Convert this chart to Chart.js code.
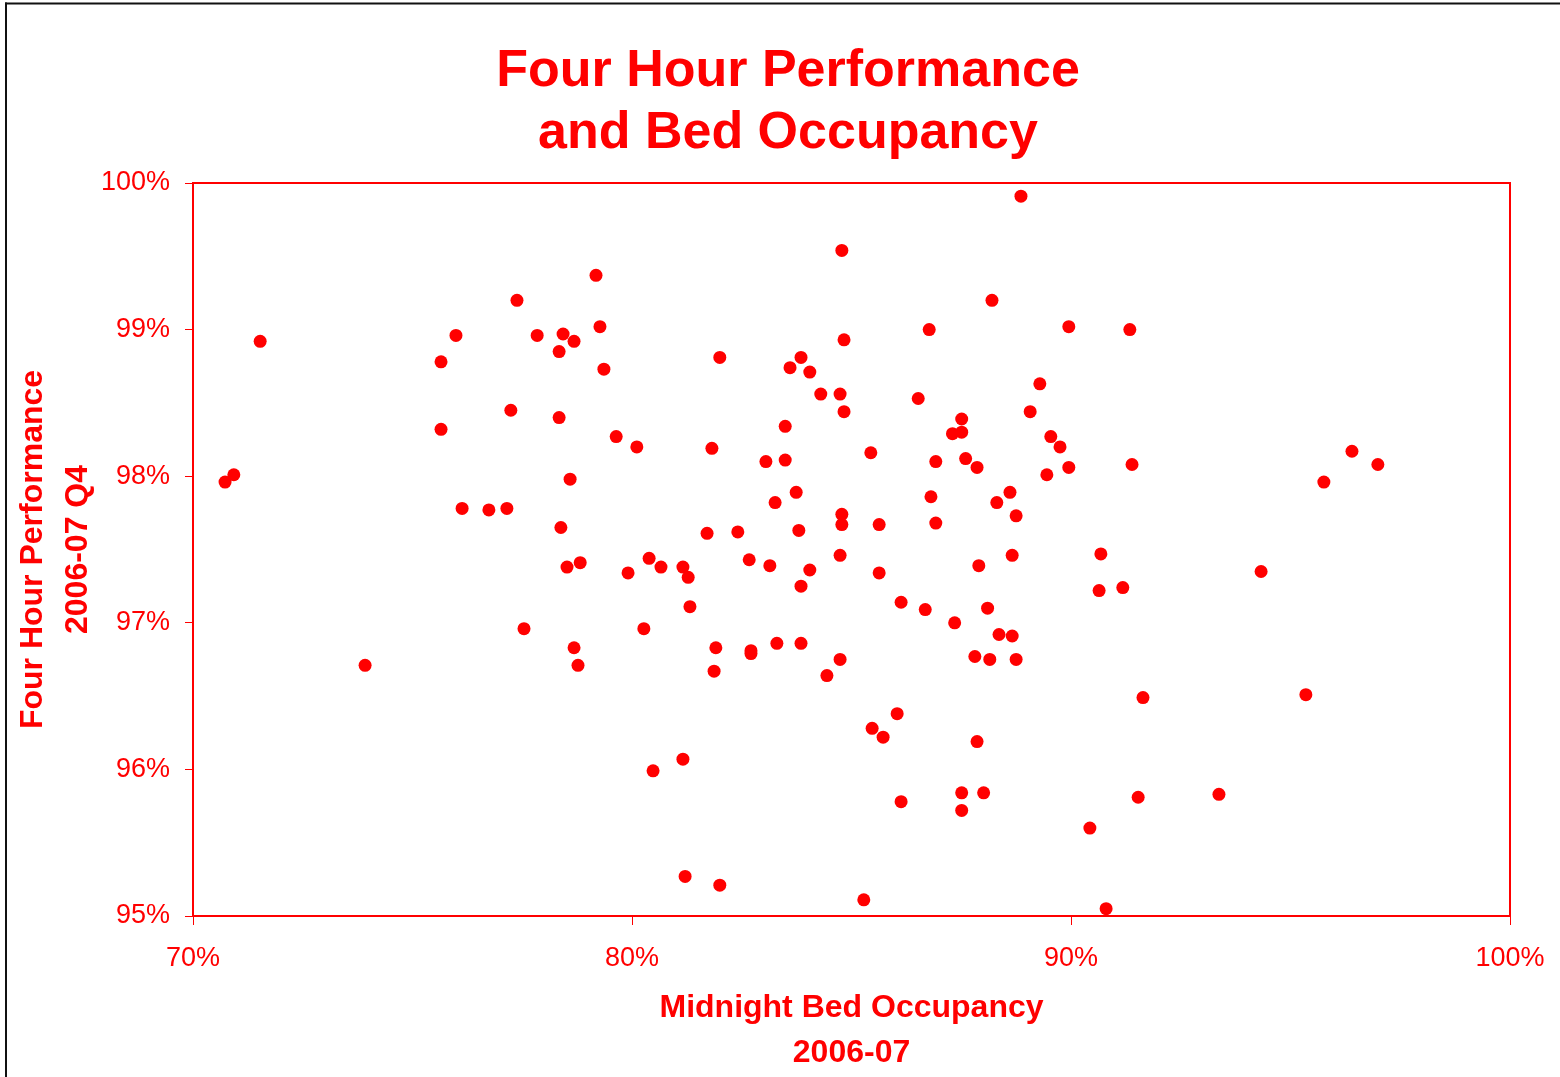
<!DOCTYPE html>
<html>
<head>
<meta charset="utf-8">
<script src="https://cdn.jsdelivr.net/npm/chart.js@4/dist/chart.umd.min.js"></script>
<style>
  html, body { margin: 0; padding: 0; background: #fff; overflow: hidden; }
  #wrap { position: absolute; left: 0; top: 0; width: 1576px; height: 1077px; }
</style>
</head>
<body>
<div id="wrap"><canvas id="c" width="1576" height="1077"></canvas></div>
<script>
// Midnight bed occupancy 2006-07 (%)
const occupancy = [
  70.73, 70.93, 71.53, 73.92, 75.65, 75.99, 75.65, 76.13, 76.74, 77.15,
  77.24, 77.38, 77.54, 77.84, 78.34, 78.34, 78.43, 78.38, 78.52, 78.59,
  78.68, 78.68, 78.77, 78.82, 79.18, 79.27, 79.36, 79.64, 79.91, 80.11,
  80.27, 80.39, 80.48, 80.66, 81.16, 81.16, 81.21, 81.28, 81.32, 81.71,
  81.82, 81.87, 81.91, 82.00, 82.00, 82.41, 82.67, 82.71, 82.71, 83.05,
  83.14, 83.26, 83.30, 83.49, 83.49, 83.60, 83.74, 83.80, 83.85, 83.85,
  83.85, 84.05, 84.05, 84.30, 84.44, 84.74, 84.74, 84.74, 84.78, 84.78,
  84.78, 84.83, 84.83, 85.28, 85.44, 85.47, 85.63, 85.63, 85.72, 86.04,
  86.13, 86.13, 86.52, 86.68, 86.77, 86.81, 86.92, 86.92, 87.30, 87.35,
  87.51, 87.51, 87.51, 87.51, 87.60, 87.81, 87.86, 87.86, 87.90, 88.01,
  88.10, 88.15, 88.20, 88.31, 88.36, 88.61, 88.66, 88.66, 88.75, 88.75,
  88.86, 89.07, 89.29, 89.45, 89.54, 89.75, 89.95, 89.95, 90.43, 90.64,
  90.68, 90.80, 91.18, 91.34, 91.39, 91.53, 91.64, 93.37, 94.33, 95.35,
  95.76, 96.40, 96.99
];
// Four hour performance 2006-07 Q4 (%)
const performance = [
  97.96, 98.01, 98.92, 96.71, 98.78, 98.96, 98.32, 97.78, 97.77, 97.78,
  98.45, 99.20, 96.96, 98.96, 98.85, 98.40, 98.97, 97.65, 97.38, 97.98,
  98.92, 96.83, 96.71, 97.41, 99.37, 99.02, 98.73, 98.27, 97.34, 98.20,
  96.96, 97.44, 95.99, 97.38, 97.38, 96.07, 95.27, 97.31, 97.11, 97.61,
  98.19, 96.67, 96.83, 98.81, 95.21, 97.62, 97.43, 96.81, 96.79, 98.10,
  97.39, 97.82, 96.86, 98.34, 98.11, 98.74, 97.89, 97.63, 98.81, 97.25,
  96.86, 98.71, 97.36, 98.56, 96.64, 98.56, 97.46, 96.75, 99.54, 97.74,
  97.67, 98.93, 98.44, 95.11, 98.16, 96.28, 97.67, 97.34, 96.22, 96.38,
  97.14, 95.78, 98.53, 97.09, 99.00, 97.86, 98.10, 97.68, 98.29, 97.00,
  98.39, 98.30, 95.84, 95.72, 98.12, 96.77, 98.06, 96.19, 97.39, 95.84,
  97.10, 96.75, 99.20, 97.82, 96.92, 97.89, 97.46, 96.91, 97.73, 96.75,
  99.91, 98.44, 98.63, 98.01, 98.27, 98.20, 99.02, 98.06, 95.60, 97.22,
  97.47, 95.05, 97.24, 99.00, 98.08, 95.81, 96.49, 95.83, 97.35, 96.51,
  97.96, 98.17, 98.08
];
const titleLines = ['Four Hour Performance', 'and Bed Occupancy'];
const xTitleLines = ['Midnight Bed Occupancy', '2006-07'];
const yTitleLines = ['Four Hour Performance', '2006-07 Q4'];
const xTicks = [70, 80, 90, 100];
const yTicks = [95, 96, 97, 98, 99, 100];

const RED = '#FF0000';
const FONT = "'Liberation Sans', Arial, Helvetica, sans-serif";

const points = occupancy.map((x, i) => ({ x: x, y: performance[i] }));

const framePlugin = {
  id: 'frame',
  beforeDraw(chart) {
    const ctx = chart.ctx;
    ctx.save();
    ctx.fillStyle = '#fff';
    ctx.fillRect(0, 0, chart.width, chart.height);
    ctx.fillStyle = '#111';
    ctx.fillRect(5, 2.5, chart.width, 2);
    ctx.fillRect(5, 2.5, 2, chart.height);
    ctx.restore();
  },
  afterDatasetsDraw(chart) {
    const a = chart.chartArea;
    const ctx = chart.ctx;
    ctx.save();
    ctx.strokeStyle = RED;
    ctx.lineWidth = 2;
    ctx.strokeRect(a.left, a.top, a.right - a.left, a.bottom - a.top);
    ctx.restore();
  }
};

new Chart(document.getElementById('c'), {
  type: 'scatter',
  data: {
    datasets: [{
      data: points,
      pointRadius: 6.5,
      pointBackgroundColor: RED,
      pointBorderColor: RED,
      pointBorderWidth: 0,
      showLine: false
    }]
  },
  options: {
    responsive: false,
    animation: false,
    events: [],
    layout: { padding: { left: 0, right: 0, top: 0, bottom: 0 } },
    plugins: {
      legend: { display: false },
      tooltip: { enabled: false },
      title: {
        display: true,
        text: titleLines,
        color: RED,
        font: { family: FONT, size: 52, weight: 'bold', lineHeight: '62px' },
        padding: { top: 41, bottom: 18 }
      }
    },
    scales: {
      x: {
        type: 'linear',
        min: 70, max: 100,
        afterBuildTicks(scale) { scale.ticks = xTicks.map(v => ({ value: v })); },
        afterFit(scale) { scale.height = 161; },
        ticks: {
          color: RED,
          font: { family: FONT, size: 27, lineHeight: 1.2 },
          padding: 17,
          maxRotation: 0,
          callback: v => v + '%'
        },
        grid: { display: true, drawOnChartArea: false, drawTicks: true, tickLength: 9, color: RED, lineWidth: 1 },
        border: { display: true, color: RED, width: 2 },
        title: {
          display: true,
          text: xTitleLines,
          color: RED,
          font: { family: FONT, size: 32, weight: 'bold', lineHeight: '45px' },
          padding: { top: 0, bottom: 1 }
        }
      },
      y: {
        type: 'linear',
        min: 95, max: 100,
        afterBuildTicks(scale) { scale.ticks = yTicks.map(v => ({ value: v })); },
        afterFit(scale) { scale.width = 193; },
        ticks: {
          color: RED,
          font: { family: FONT, size: 27, lineHeight: 1.2 },
          padding: 15,
          labelOffset: 0,
          callback: v => v + '%'
        },
        grid: { display: true, drawOnChartArea: false, drawTicks: true, tickLength: 8, color: RED, lineWidth: 1 },
        border: { display: true, color: RED, width: 2 },
        title: {
          display: true,
          text: yTitleLines,
          color: RED,
          font: { family: FONT, size: 32, weight: 'bold', lineHeight: '45px' },
          padding: { top: 11, bottom: 0 }
        }
      },
      // invisible spacer on the right so the plot ends where the reference's does
      spacer: {
        type: 'linear',
        position: 'right',
        display: true,
        afterFit(scale) { scale.width = 66; },
        ticks: { display: false },
        grid: { display: false, drawTicks: false },
        border: { display: false },
        title: { display: false }
      }
    }
  },
  plugins: [framePlugin]
});
</script>
</body>
</html>
